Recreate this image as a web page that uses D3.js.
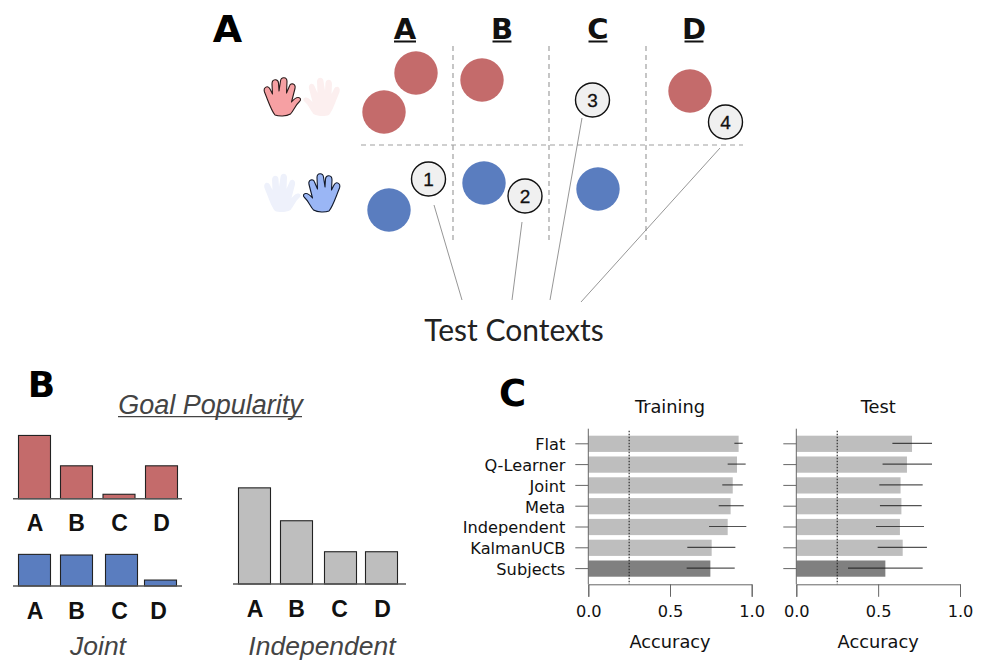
<!DOCTYPE html>
<html><head><meta charset="utf-8">
<script src="https://cdn.jsdelivr.net/npm/d3@7"></script>
<style>html,body{margin:0;padding:0;background:#fff}svg{display:block}</style>
</head><body><svg id="c" width="983" height="661"></svg>
<script>
// ---------- data ----------
const goals = ["A","B","C","D"];
const popRed = [0.50,0.26,0.035,0.26];
const popBlue = [0.25,0.245,0.25,0.047];
const popGrey = [0.76,0.50,0.255,0.255];
const models = ["Flat","Q-Learner","Joint","Meta","Independent","KalmanUCB","Subjects"];
const trainMean = [0.92,0.91,0.884,0.871,0.853,0.755,0.747];
const trainLow  = [0.894,0.853,0.82,0.798,0.739,0.606,0.602];
const trainHigh = [0.945,0.963,0.945,0.951,0.967,0.90,0.896];
const testMean = [0.707,0.676,0.637,0.642,0.633,0.65,0.544];
const testLow  = [0.587,0.527,0.507,0.511,0.487,0.497,0.316];
const testHigh = [0.829,0.829,0.772,0.766,0.78,0.798,0.772];
const accTicks = [0,0.5,1];
const chance = 0.25;
const testIds = ["1","2","3","4"];

// ---------- palette / fonts ----------
const RED="#c46b6b", BLUE="#5a7dbf", GREY="#bebebe", DARK="#808080";
const BOLD="'DejaVu Sans',sans-serif", HELV="'Liberation Sans',Arial,sans-serif", MPL="'DejaVu Sans',sans-serif";
const svg=d3.select("#c");

function label(t,x,y,size,o={}){
  return svg.append("text").attr("x",x).attr("y",y).text(t)
    .attr("font-family",o.family||MPL).attr("font-size",size)
    .attr("font-weight",o.weight||"normal").attr("font-style",o.style||"normal")
    .attr("text-anchor",o.anchor||"middle").attr("fill",o.fill||"#111");
}

// ---------- panel letters ----------
label("A",227.5,42,38,{family:BOLD,weight:"bold",fill:"#000"});
label("B",41.5,397,36,{family:BOLD,weight:"bold",fill:"#000"});
label("C",512.5,406,37,{family:BOLD,weight:"bold",fill:"#000"});

// ---------- panel A ----------
const colX=d3.scaleOrdinal().domain(goals).range([405,502,598,694]);
goals.forEach(g=>{
  label(g,colX(g),39,29,{family:BOLD,weight:"bold",fill:"#111"});
  const w=g==="A"?21:18;
  svg.append("line").attr("x1",colX(g)-w/2-.5).attr("x2",colX(g)+w/2+.5).attr("y1",41.5).attr("y2",41.5)
    .attr("stroke","#111").attr("stroke-width",2);
});
const dash={stroke:"#a0a0a0","stroke-width":1.2,"stroke-dasharray":"5,4"};
function styled(s,o){Object.entries(o).forEach(([k,v])=>s.attr(k,v));return s;}
[453,549,646].forEach(x=>styled(svg.append("line").attr("x1",x).attr("x2",x).attr("y1",46).attr("y2",241),dash));
styled(svg.append("line").attr("x1",361).attr("x2",743).attr("y1",145).attr("y2",145),dash);

const leaders=[[434,205,462,300],[522,222,512,300],[582,118,550,300],[720,148,581,302]];
svg.append("g").selectAll("line").data(leaders).join("line")
  .attr("x1",d=>d[0]).attr("y1",d=>d[1]).attr("x2",d=>d[2]).attr("y2",d=>d[3])
  .attr("stroke","#8a8a8a").attr("stroke-width",.9);

const redDots=[[416,73],[384,112],[482,80],[690,91]];
const blueDots=[[389,210],[484,183],[598,189]];
svg.append("g").selectAll("circle").data(redDots).join("circle")
  .attr("cx",d=>d[0]).attr("cy",d=>d[1]).attr("r",21.7).attr("fill",RED);
svg.append("g").selectAll("circle").data(blueDots).join("circle")
  .attr("cx",d=>d[0]).attr("cy",d=>d[1]).attr("r",21.7).attr("fill",BLUE);

const badgePos=[[428.5,179],[525,196],[592.5,100],[725.5,122]];
testIds.forEach((id,i)=>{
  svg.append("circle").attr("cx",badgePos[i][0]).attr("cy",badgePos[i][1]).attr("r",17)
    .attr("fill","#f0f0f0").attr("stroke","#111").attr("stroke-width",1.4);
  label(id,badgePos[i][0],badgePos[i][1]+7,19,{family:HELV,fill:"#111"}).attr("stroke","#111").attr("stroke-width",.3);
});
label("Test Contexts",514,341,30,{family:"Lato,sans-serif",fill:"#222"});

// hands
const HAND="M11 37C7 32 5 25 .5 14C-1 9 4 7 6 11L8.5 16L8 6C8 .5 14 .5 14.5 5L15 13L16.5 3C17 -1.5 23 -1.5 23 3.5L22.5 15L25.5 8C27 4 32 6 31 10.5L27.5 24C29.5 22 31.5 19.5 33.5 19.5C36.5 19 37.5 22 35.5 23.5C31.5 27 30 32 26.5 36C22 38.5 15 38.5 11 37Z";
function hand(x,y,mirror,fill,stroke){
  svg.append("path").attr("d",HAND)
    .attr("transform",mirror?`translate(${x+36},${y}) scale(-1,1)`:`translate(${x},${y})`)
    .attr("fill",fill).attr("stroke",stroke).attr("stroke-width",stroke==="none"?0:1.1).attr("stroke-linejoin","round");
}
hand(264,78,false,"#f6a0a3","#2a1a1a");
hand(304,78,true,"#fcefef","none");
hand(264,174,false,"#eef1fb","none");
hand(304,174,true,"#9ab6f5","#10182a");

// ---------- panel B ----------
label("Goal Popularity",210.5,414,27,{family:HELV,style:"italic",fill:"#444"});
svg.append("line").attr("x1",118).attr("x2",302).attr("y1",416.7).attr("y2",416.7).attr("stroke","#444").attr("stroke-width",1.3);

const popScale=d3.scaleLinear().domain([0,1]).range([0,126.5]);
function popBars(vals,fill,base,lineX,cx,labX,labY){
  const x=d3.scaleOrdinal().domain(goals).range(cx);
  const lx=d3.scaleOrdinal().domain(goals).range(labX);
  svg.append("g").selectAll("rect").data(goals).join("rect")
    .attr("x",g=>x(g)-16).attr("width",32)
    .attr("y",(g,i)=>base-popScale(vals[i])).attr("height",(g,i)=>popScale(vals[i]))
    .attr("fill",fill).attr("stroke","#222").attr("stroke-width",1.1);
  svg.append("line").attr("x1",lineX[0]).attr("x2",lineX[1]).attr("y1",base).attr("y2",base).attr("stroke","#555").attr("stroke-width",1.4);
  goals.forEach(g=>label(g,lx(g),labY,23,{family:HELV,weight:"bold",fill:"#111"}));
}
popBars(popRed,RED,498.7,[13,182],[34.5,76.5,119,161.5],[35,76.5,119.5,161.5],531);
popBars(popBlue,BLUE,586,[13,182],[34.5,76.5,121.5,160.5],[35,76.5,119.5,158.5],618.5);
popBars(popGrey,GREY,584,[233,406],[254.5,296.5,340.5,381.5],[255,296.5,339.5,382.5],616.5);
label("Joint",98,655,26.5,{family:HELV,style:"italic",fill:"#444"});
label("Independent",322,655,26.5,{family:HELV,style:"italic",fill:"#444"});

// ---------- panel C ----------
const yBand=d3.scaleBand().domain(models).range([433.4,579]).paddingInner(.22).paddingOuter(.11);
const AXIS="#666";
function accPanel(title,mean,low,high,x0,x1,showLabels){
  const x=d3.scaleLinear().domain([0,1]).range([x0,x1]);
  const g=svg.append("g");
  g.selectAll("rect").data(models).join("rect")
    .attr("x",x(0)).attr("width",(m,i)=>x(mean[i])-x(0))
    .attr("y",m=>yBand(m)).attr("height",yBand.bandwidth())
    .attr("fill",m=>m==="Subjects"?DARK:GREY);
  g.append("line").attr("x1",x(chance)).attr("x2",x(chance)).attr("y1",430.7).attr("y2",584.3)
    .attr("stroke","#222").attr("stroke-width",1.1).attr("stroke-dasharray","1.5,1.5");
  g.selectAll("line.err").data(models).join("line").attr("class","err")
    .attr("x1",(m,i)=>x(low[i])).attr("x2",(m,i)=>x(high[i]))
    .attr("y1",m=>yBand(m)+yBand.bandwidth()/2-.5).attr("y2",m=>yBand(m)+yBand.bandwidth()/2-.5)
    .attr("stroke","#111").attr("stroke-opacity",.72).attr("stroke-width",1.2);
  const ax=g.append("g").attr("transform","translate(0,584.3)")
    .call(d3.axisBottom(x).tickValues(accTicks).tickFormat(d3.format(".1f")).tickSize(12.5).tickPadding(9));
  const ay=g.append("g").attr("transform",`translate(${x0},0)`)
    .call(d3.axisLeft(yBand).tickSize(13).tickSizeOuter(0).tickPadding(10));
  ay.select(".domain").remove();
  g.append("line").attr("x1",x0).attr("x2",x0).attr("y1",428.7).attr("y2",584.3).attr("stroke",AXIS).attr("stroke-width",1);
  if(!showLabels) ay.selectAll("text").remove();
  [ax,ay].forEach(a=>{
    a.selectAll("line,path").attr("stroke",AXIS).attr("stroke-width",1);
    a.selectAll("text").attr("font-family",MPL).attr("font-size",16.2).attr("fill","#111");
  });
  ay.selectAll("text").attr("dy","0.40em");
  label(title,(x0+x1)/2,412.7,17.8);
  label("Accuracy",(x0+x1)/2,647.7,17.8);
}
accPanel("Training",trainMean,trainLow,trainHigh,588.3,751.7,true);
accPanel("Test",testMean,testLow,testHigh,796.3,960,false);
</script></body></html>
